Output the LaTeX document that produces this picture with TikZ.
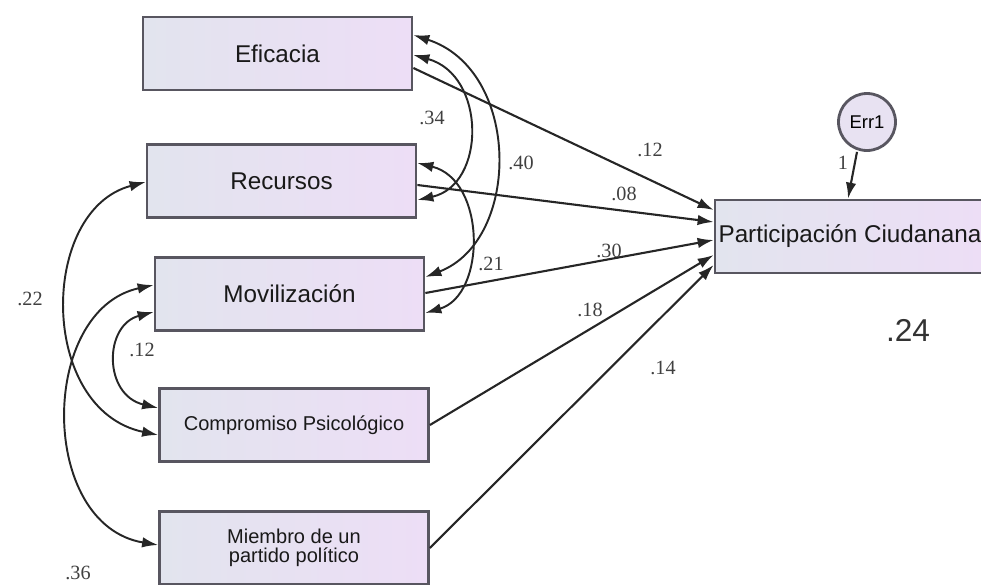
\documentclass[tikz,border=0pt]{standalone}
\usepackage{fontspec}
\setmainfont{Liberation Sans}
\newfontfamily\coeffont{Liberation Serif}
\usetikzlibrary{arrows.meta,calc}
\definecolor{boxleft}{RGB}{226,228,238}
\definecolor{boxright}{RGB}{237,222,246}
\definecolor{boxline}{RGB}{88,86,96}
\definecolor{errfill}{RGB}{232,226,242}

\begin{document}
\begin{tikzpicture}[x=0.02cm,y=-0.02cm,
  var/.style={rectangle,draw=boxline,line width=1.6pt,left color=boxleft,right color=boxright,
    minimum width=5.38cm,minimum height=1.46cm,inner sep=0pt,text=black!90,font=\fontsize{13.8}{16}\selectfont},
  smalltext/.style={font=\fontsize{11.4}{10.5}\selectfont},
  coef/.style={font=\coeffont\fontsize{11.5}{12}\selectfont,text=black!75,inner sep=1pt},
  >={Latex[length=0.32cm,width=0.21cm]},
  effect/.style={->,line width=1.2pt,draw=black!85},
  cov/.style={<->,line width=1.1pt,draw=black!85}]
\useasboundingbox (0,0) rectangle (981,585);

% observed variables
\node[var] (eficacia) at (277.5,53.5) {Eficacia};
\node[var] (recursos) at (281.5,181) {Recursos};
\node[var] (movilizacion) at (289.5,294) {Movilización};
\node[var,smalltext] (compromiso) at (294,425) {Compromiso Psicológico};
\node[var,smalltext,align=center] (miembro) at (294,548) {Miembro de un\\partido político};
\node[var,minimum width=5.4cm] (participacion) at (850,236.5) {Participación Ciudanana};
\node[circle,draw=boxline,line width=1.6pt,fill=errfill,minimum size=1.14cm,inner sep=0pt,
  font=\fontsize{10.5}{12}\selectfont] (err) at (867,122) {Err1};

% regression paths
\draw[effect] ($(eficacia.east)+(0,14.5)$) -- ($(participacion.west)+(0,-26.5)$);
\draw[effect] ($(recursos.east)+(0,4)$) -- ($(participacion.west)+(0,-14.5)$);
\draw[effect] ($(movilizacion.east)+(0,-1)$) -- ($(participacion.west)+(0,3.5)$);
\draw[effect] (compromiso.east) -- ($(participacion.west)+(0,18.5)$);
\draw[effect] (miembro.east) -- ($(participacion.west)+(0,28.5)$);
\draw[effect] ($(err.south)+(-10,0)$) -- ($(participacion.north)+(-2,0)$);

% covariances
\draw[cov] ($(eficacia.east)+(0,-18.5)$) .. controls +(108,35) and +(96,-37) .. ($(movilizacion.east)+(0,-17)$);
\draw[cov] ($(eficacia.east)+(0,1.5)$) .. controls +(73,20) and +(69,-15) .. ($(recursos.east)+(0,19)$);
\draw[cov] ($(recursos.east)+(0,-18)$) .. controls +(69,17) and +(61,-18) .. ($(movilizacion.east)+(0,19)$);
\draw[cov] ($(recursos.west)+(0,1)$) .. controls +(-107,28) and +(-120,-25) .. ($(compromiso.west)+(0,10)$);
\draw[cov] ($(movilizacion.west)+(0,-9)$) .. controls +(-115,25) and +(-120,-20) .. ($(miembro.west)+(0,-3)$);
\draw[cov] ($(movilizacion.west)+(0,18)$) .. controls +(-50,13) and +(-55,-13) .. ($(compromiso.west)+(0,-17)$);

% estimates
\node[coef] (c34) at (432,118) {.34};
\node[coef] (c40) at (521,163) {.40};
\node[coef] (c21) at (491,264) {.21};
\node[coef] (b12) at (650,150) {.12};
\node[coef] (b08) at (624,194) {.08};
\node[coef] (b30) at (609,251) {.30};
\node[coef] (b18) at (590,310) {.18};
\node[coef] (b14) at (663,368) {.14};
\node[coef] (c22) at (30,299) {.22};
\node[coef] (c12) at (142,350) {.12};
\node[coef] (c36) at (78,573) {.36};
\node[coef] (w1) at (843,163) {1};
\node[font=\fontsize{18}{20}\selectfont,text=black!80] (r2) at (908,330) {.24};
\end{tikzpicture}
\end{document}
